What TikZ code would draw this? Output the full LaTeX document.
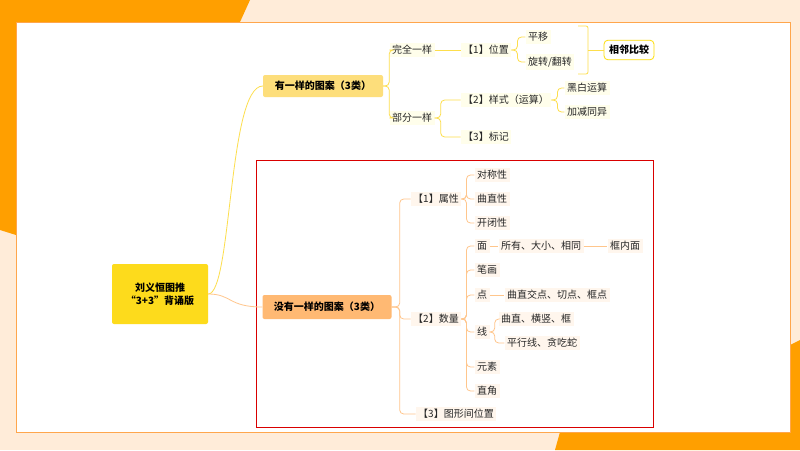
\documentclass[tikz,border=0pt]{standalone}
\usepackage{fontspec}
\setmainfont{Noto Sans CJK SC}
\begin{document}
\begin{tikzpicture}[x=1pt,y=-1pt,
  lab/.style={inner sep=2.5pt,fill=#1,font=\fontsize{10}{12}\selectfont,text=black!85},
  up/.style={lab=yellow!8},
  lo/.style={lab=orange!7},
  cu/.style={draw=yellow!70!orange!70,line width=0.8pt,rounded corners=4pt},
  cl/.style={draw=orange!45,line width=0.8pt,rounded corners=4pt}]
\useasboundingbox (0,0) rectangle (800,450);
\fill[orange!15] (0,0) rectangle (800,450);
\fill[orange!75!yellow] (0,0) -- (250,0) -- (240,22) -- (16,22) -- (16,235) -- (0,230) -- cycle;
\fill[orange!75!yellow] (800,340) -- (790,345) -- (790,432) -- (560,432) -- (555,450) -- (800,450) -- cycle;
\fill[white,draw=orange!70,line width=1pt] (16,22) rectangle (790,432);
\draw[red!85!black,line width=1pt] (256,160) rectangle (653,427);
% nodes
\node[fill=yellow!75!orange!90,rounded corners=2pt,minimum width=96pt,minimum height=60pt,align=center,font=\bfseries\fontsize{10}{13}\selectfont] (root) at (160,294) {刘义恒图推\\“3+3”背诵版};
\node[fill=yellow!55!orange!50,rounded corners=2pt,minimum width=120pt,minimum height=22pt,font=\bfseries\fontsize{10}{12}\selectfont] (A) at (323,86) {有一样的图案（3类）};
\node[fill=orange!55,rounded corners=2pt,minimum width=129pt,minimum height=24pt,font=\bfseries\fontsize{10}{12}\selectfont] (B) at (327,307) {没有一样的图案（3类）};
\node[up] (a1) at (412,50) {完全一样};
\node[up] (a2) at (412,118) {部分一样};
\node[up] (p1) at (486,50) {【1】位置};
\node[up] (py) at (538,37) {平移};
\node[up] (xz) at (550,62) {旋转/翻转};
\node[draw=yellow!80!orange,line width=0.8pt,fill=white,rounded corners=4pt,inner sep=5pt,font=\bfseries\fontsize{10}{12}\selectfont] (xl) at (629,50) {相邻比较};
\node[up] (p2) at (506,100) {【2】样式（运算）};
\node[up] (hb) at (587,88) {黑白运算};
\node[up] (jj) at (587,112) {加减同异};
\node[up] (p3) at (486,137) {【3】标记};
\node[lo] (b1) at (436,199) {【1】属性};
\node[lo] (dc) at (492,175) {对称性};
\node[lo] (qz) at (492,199) {曲直性};
\node[lo] (kb) at (492,223) {开闭性};
\node[lo] (b2) at (436,319) {【2】数量};
\node[lo] (mian) at (482,246) {面};
\node[lo] (sy) at (541,246) {所有、大小、相同};
\node[lo] (kn) at (625,246) {框内面};
\node[lo] (bh) at (487,270) {笔画};
\node[lo] (dian) at (482,295) {点};
\node[lo] (qj) at (557,295) {曲直交点、切点、框点};
\node[lo] (xian) at (482,332) {线};
\node[lo] (qh) at (536,319) {曲直、横竖、框};
\node[lo] (px) at (542,343) {平行线、贪吃蛇};
\node[lo] (ys) at (487,367) {元素};
\node[lo] (zj) at (487,391) {直角};
\node[lo] (b3) at (456,414) {【3】图形间位置};
% root connectors
\draw[cu] (root.east) .. controls (232,294) and (228,86) .. (A.west);
\draw[cl] (root.east) .. controls (232,294) and (228,307) .. (B.west);
% upper
\foreach \c in {a1,a2} \draw[cu] (A.east) -- ++(6,0) |- (\c.west);
\draw[cu] (a1.east) -- (p1.west);
\foreach \c in {p2,p3} \draw[cu] (a2.east) -- ++(6,0) |- (\c.west);
\foreach \c in {py,xz} \draw[cu] (p1.east) -- ++(6,0) |- (\c.west);
\foreach \c in {hb,jj} \draw[cu] (p2.east) -- ++(6,0) |- (\c.west);
\draw[cu,rounded corners=2pt] (578,26) -- (588,26) -- (588,74) -- (578,74);
\draw[cu] (588,50) -- (xl.west);
% lower
\foreach \c in {b1,b2,b3} \draw[cl] (B.east) -- ++(8,0) |- (\c.west);
\foreach \c in {dc,qz,kb} \draw[cl] (b1.east) -- ++(5,0) |- (\c.west);
\foreach \c in {mian,bh,dian,xian,ys,zj} \draw[cl] (b2.east) -- ++(5,0) |- (\c.west);
\draw[cl] (mian.east) -- (sy.west);
\draw[cl] (sy.east) -- (kn.west);
\draw[cl] (dian.east) -- (qj.west);
\foreach \c in {qh,px} \draw[cl] (xian.east) -- ++(5,0) |- (\c.west);
\end{tikzpicture}
\end{document}
